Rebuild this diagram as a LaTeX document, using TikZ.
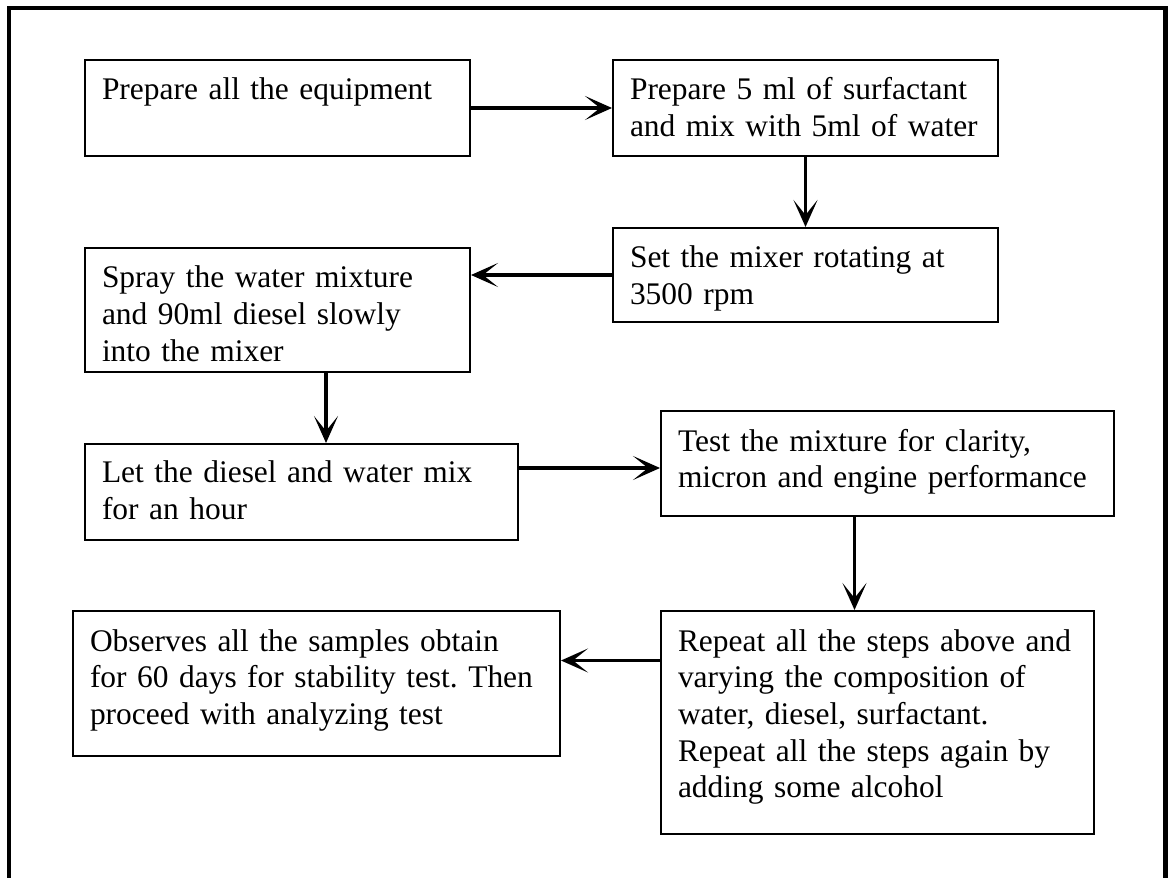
\documentclass[tikz,border=0pt]{standalone}
\usepackage{fontspec}
\setmainfont{Liberation Serif}
\usepackage{tikz}
\usetikzlibrary{arrows.meta}
\frenchspacing

\begin{document}
\begin{tikzpicture}
\useasboundingbox (0,0) rectangle (23.36,-17.56);
\draw[line width=0.09cm] (0.18,-18) |- (23.31,-0.16) -- (23.31,-18);

\begin{scope}[every node/.style={rectangle,draw,line width=0.04cm,anchor=north west,
              align=left,inner xsep=0.34cm,inner ysep=0pt,
              font=\fontsize{17.9}{20.9}\selectfont}]
    \node[text width=7.02cm,text height=0.786cm,text depth=1.134cm] (B1) at (1.68,-1.18)
        {Prepare all the equipment};
    \node[text width=7.02cm,text height=0.786cm,text depth=1.134cm] (B2) at (12.24,-1.18)
        {Prepare 5 ml of surfactant\\and mix with 5ml of water};
    \node[text width=7.02cm,text height=0.794cm,text depth=1.086cm] (B3) at (12.24,-4.54)
        {Set the mixer rotating at\\3500 rpm};
    \node[text width=7.02cm,text height=0.794cm,text depth=1.686cm] (B4) at (1.68,-4.94)
        {Spray the water mixture\\and 90ml diesel slowly\\into the mixer};
    \node[text width=7.98cm,text height=0.774cm,text depth=1.146cm] (B5) at (1.68,-8.86)
        {Let the diesel and water mix\\for an hour};
    \node[text width=8.38cm,text height=0.8cm,text depth=1.3cm] (B6) at (13.2,-8.2)
        {Test the mixture for clarity,\\micron and engine performance};
    \node[text width=7.98cm,text height=0.8cm,text depth=3.66cm] (B7) at (13.2,-12.2)
        {Repeat all the steps above and\\varying the composition of\\water, diesel, surfactant.\\Repeat all the steps again by\\adding some alcohol};
    \node[text width=9.06cm,text height=0.8cm,text depth=2.1cm] (B8) at (1.44,-12.2)
        {Observes all the samples obtain\\for 60 days for stability test. Then\\proceed with analyzing test};

    \end{scope}

\coordinate (c4) at ([xshift=0.97cm]B4.south);
\coordinate (c5) at ([yshift=-0.09cm]B6.west);
\coordinate (c6) at ([xshift=-0.66cm]B6.south);
\coordinate (c7) at ([yshift=1.24cm]B7.west);

\begin{scope}[>={Stealth[length=0.54cm,width=0.48cm,inset=0.3cm]},
              every edge/.style={draw=black,line width=0.07cm}]
    \path [->] (B1) edge (B2);
    \path [->] (B2) edge (B3);
    \path [->] (B3.west) edge (B3.west -| B4.east);
    \path [->] (c4) edge (c4 |- B5.north);
    \path [->] (c5 -| B5.east) edge (c5);
    \path [->] (c6) edge (c6 |- B7.north);
    \path [->] (c7) edge (c7 -| B8.east);

    \end{scope}

\end{tikzpicture}
\end{document}
